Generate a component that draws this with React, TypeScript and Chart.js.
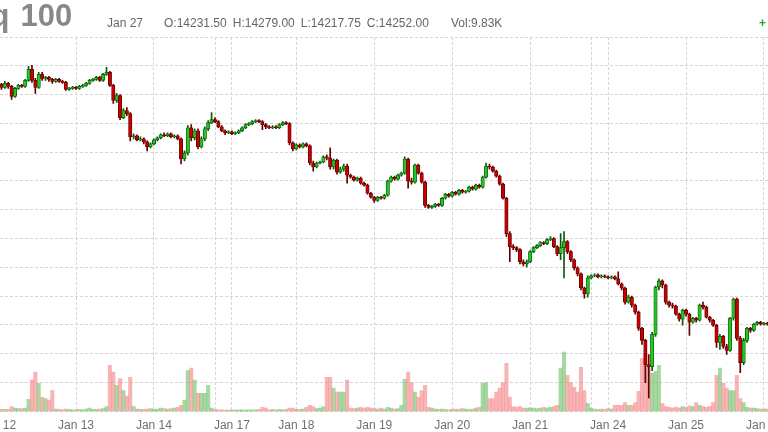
import React, { useEffect, useRef } from 'react';
import { Chart, registerables } from 'chart.js';

Chart.register(...registerables);

const TITLE_LEFT = 'Nasdaq';
const TITLE_RIGHT = '100';
const HEADER_DATE = 'Jan 27';
const HEADER_OHLC = ['O:14231.50', 'H:14279.00', 'L:14217.75', 'C:14252.00'];
const HEADER_VOL = 'Vol:9.83K';

// x positions (hourly candle index) of the day separators and their labels
const tickPos = [0, 23, 46, 64.3, 69, 88, 111, 134, 157, 175, 180, 203, 226];
const tickText = ['Jan 12', 'Jan 13', 'Jan 14', '', 'Jan 17', 'Jan 18', 'Jan 19', 'Jan 20', 'Jan 21', '', 'Jan 24', 'Jan 25', 'Jan 26'];

const open = [
  15857, 15871, 15850, 15878, 15857, 15787, 15843, 15864, 15857, 15899,
  15976, 15899, 15850, 15941, 15913, 15920, 15906, 15892, 15906, 15892,
  15885, 15836, 15843, 15850, 15843, 15857, 15864, 15878, 15899, 15906,
  15920, 15899, 15941, 15955, 15864, 15759, 15794, 15640, 15689, 15668,
  15507, 15514, 15486, 15493, 15472, 15437, 15458, 15486, 15500, 15521,
  15514, 15528, 15507, 15514, 15493, 15353, 15395, 15570, 15500, 15549,
  15437, 15493, 15563, 15605, 15626, 15612, 15577, 15549, 15535, 15542,
  15528, 15535, 15549, 15570, 15591, 15598, 15612, 15619, 15612, 15591,
  15577, 15570, 15577, 15570, 15591, 15605, 15598, 15465, 15423, 15451,
  15437, 15458, 15444, 15325, 15297, 15325, 15332, 15367, 15360, 15297,
  15346, 15262, 15283, 15304, 15241, 15227, 15206, 15220, 15185, 15171,
  15115, 15087, 15066, 15087, 15080, 15101, 15199, 15227, 15213, 15241,
  15255, 15353, 15199, 15192, 15311, 15255, 15192, 15031, 15017, 15024,
  15038, 15031, 15080, 15108, 15094, 15122, 15108, 15136, 15122, 15129,
  15157, 15143, 15171, 15157, 15227, 15304, 15297, 15269, 15234, 15178,
  15080, 14835, 14744, 14737, 14723, 14639, 14625, 14639, 14709, 14737,
  14751, 14772, 14765, 14793, 14800, 14744, 14695, 14737, 14779, 14709,
  14653, 14597, 14555, 14457, 14415, 14527, 14541, 14548, 14534, 14541,
  14534, 14527, 14534, 14520, 14485, 14457, 14359, 14394, 14338, 14289,
  14177, 14093, 13925, 13911, 14135, 14464, 14506, 14478, 14359, 14338,
  14331, 14275, 14240, 14303, 14275, 14219, 14247, 14233, 14338, 14324,
  14254, 14233, 14198, 14079, 14121, 14051, 14023, 14247, 14380, 14107,
  13939, 14093, 14177, 14163, 14205, 14219, 14205, 14212,
];

const high = [
  15885, 15878, 15892, 15885, 15864, 15850, 15871, 15871, 15906, 15997,
  16004, 15913, 15955, 15955, 15927, 15927, 15913, 15913, 15913, 15899,
  15892, 15850, 15857, 15857, 15864, 15871, 15885, 15906, 15913, 15927,
  15927, 15948, 15990, 15962, 15871, 15808, 15801, 15703, 15710, 15675,
  15528, 15521, 15507, 15500, 15479, 15465, 15493, 15507, 15528, 15535,
  15535, 15535, 15521, 15521, 15500, 15409, 15584, 15591, 15563, 15563,
  15507, 15577, 15619, 15675, 15640, 15619, 15584, 15556, 15549, 15549,
  15542, 15556, 15577, 15598, 15605, 15619, 15626, 15626, 15619, 15598,
  15584, 15584, 15584, 15598, 15612, 15612, 15605, 15472, 15458, 15458,
  15465, 15465, 15451, 15339, 15332, 15339, 15374, 15381, 15430, 15353,
  15353, 15297, 15318, 15318, 15248, 15234, 15227, 15227, 15192, 15178,
  15122, 15094, 15094, 15094, 15108, 15206, 15234, 15234, 15248, 15262,
  15367, 15360, 15220, 15318, 15318, 15262, 15199, 15038, 15031, 15045,
  15045, 15087, 15115, 15115, 15129, 15129, 15143, 15143, 15136, 15164,
  15164, 15178, 15178, 15234, 15325, 15318, 15304, 15276, 15241, 15185,
  15087, 14849, 14758, 14744, 14730, 14653, 14653, 14716, 14744, 14758,
  14779, 14779, 14800, 14814, 14807, 14751, 14835, 14849, 14786, 14716,
  14660, 14604, 14562, 14464, 14541, 14548, 14555, 14555, 14548, 14548,
  14541, 14541, 14541, 14569, 14492, 14464, 14408, 14401, 14345, 14296,
  14184, 14100, 13995, 14149, 14471, 14520, 14513, 14485, 14366, 14352,
  14338, 14282, 14310, 14310, 14282, 14254, 14254, 14345, 14359, 14331,
  14261, 14240, 14205, 14135, 14128, 14065, 14254, 14387, 14387, 14121,
  14107, 14184, 14184, 14212, 14226, 14226, 14219, 14219,
];

const low = [
  15843, 15836, 15843, 15843, 15766, 15780, 15836, 15850, 15850, 15892,
  15885, 15808, 15843, 15899, 15899, 15892, 15878, 15885, 15885, 15878,
  15829, 15829, 15836, 15836, 15836, 15850, 15857, 15871, 15892, 15899,
  15892, 15892, 15934, 15857, 15738, 15745, 15626, 15633, 15654, 15479,
  15493, 15479, 15479, 15458, 15409, 15430, 15451, 15479, 15493, 15507,
  15507, 15500, 15500, 15486, 15318, 15339, 15381, 15479, 15486, 15423,
  15430, 15479, 15549, 15598, 15605, 15570, 15542, 15521, 15528, 15521,
  15521, 15528, 15542, 15563, 15584, 15591, 15605, 15605, 15556, 15563,
  15563, 15563, 15563, 15563, 15584, 15591, 15451, 15409, 15416, 15430,
  15430, 15437, 15311, 15269, 15290, 15318, 15325, 15346, 15283, 15283,
  15248, 15255, 15269, 15185, 15220, 15199, 15199, 15178, 15164, 15108,
  15080, 15052, 15059, 15073, 15073, 15094, 15192, 15206, 15206, 15234,
  15248, 15150, 15178, 15185, 15248, 15185, 15017, 15010, 15010, 15017,
  15024, 15024, 15073, 15087, 15087, 15101, 15101, 15115, 15115, 15122,
  15136, 15136, 15150, 15150, 15220, 15283, 15262, 15227, 15171, 15073,
  14814, 14639, 14723, 14709, 14625, 14611, 14604, 14632, 14702, 14730,
  14744, 14758, 14758, 14786, 14737, 14681, 14653, 14527, 14695, 14639,
  14583, 14541, 14443, 14387, 14394, 14520, 14534, 14527, 14527, 14527,
  14520, 14520, 14513, 14478, 14443, 14345, 14352, 14324, 14275, 14163,
  14065, 13799, 13694, 13883, 14121, 14443, 14457, 14345, 14324, 14317,
  14268, 14226, 14198, 14261, 14128, 14212, 14219, 14226, 14310, 14247,
  14219, 14191, 14044, 14030, 14037, 13995, 14016, 14233, 14093, 13869,
  13925, 14079, 14149, 14156, 14198, 14198, 14198, 14198,
];

const close = [
  15871, 15850, 15878, 15857, 15787, 15843, 15864, 15857, 15899, 15976,
  15899, 15850, 15941, 15913, 15920, 15906, 15892, 15906, 15892, 15885,
  15836, 15843, 15850, 15843, 15857, 15864, 15878, 15899, 15906, 15920,
  15899, 15941, 15955, 15864, 15759, 15794, 15640, 15689, 15668, 15507,
  15514, 15486, 15493, 15472, 15437, 15458, 15486, 15500, 15521, 15514,
  15528, 15507, 15514, 15493, 15353, 15395, 15570, 15500, 15549, 15437,
  15493, 15563, 15605, 15626, 15612, 15577, 15549, 15535, 15542, 15528,
  15535, 15549, 15570, 15591, 15598, 15612, 15619, 15612, 15591, 15577,
  15570, 15577, 15570, 15591, 15605, 15598, 15465, 15423, 15451, 15437,
  15458, 15444, 15325, 15297, 15325, 15332, 15367, 15360, 15297, 15346,
  15262, 15283, 15304, 15241, 15227, 15206, 15220, 15185, 15171, 15115,
  15087, 15066, 15087, 15080, 15101, 15199, 15227, 15213, 15241, 15255,
  15353, 15199, 15192, 15311, 15255, 15192, 15031, 15017, 15024, 15038,
  15031, 15080, 15108, 15094, 15122, 15108, 15136, 15122, 15129, 15157,
  15143, 15171, 15157, 15227, 15304, 15297, 15269, 15234, 15178, 15080,
  14835, 14744, 14737, 14723, 14639, 14625, 14639, 14709, 14737, 14751,
  14772, 14765, 14793, 14800, 14744, 14695, 14737, 14779, 14709, 14653,
  14597, 14555, 14457, 14415, 14527, 14541, 14548, 14534, 14541, 14534,
  14527, 14534, 14520, 14485, 14457, 14359, 14394, 14338, 14289, 14177,
  14093, 13925, 13911, 14135, 14464, 14506, 14478, 14359, 14338, 14331,
  14275, 14240, 14303, 14275, 14219, 14247, 14233, 14338, 14324, 14254,
  14233, 14198, 14079, 14121, 14051, 14023, 14247, 14380, 14107, 13939,
  14093, 14177, 14163, 14205, 14219, 14205, 14212, 14205,
];

// volume in thousands of contracts
const volume = [
  5, 5, 5, 5, 12, 8, 7, 7, 8, 30,
  78, 98, 70, 35, 32, 28, 52, 6, 5, 4,
  6, 5, 4, 4, 5, 4, 6, 8, 5, 5,
  6, 7, 12, 115, 98, 65, 82, 52, 38, 85,
  12, 6, 5, 5, 6, 7, 5, 6, 8, 7,
  6, 7, 8, 10, 15, 28, 102, 108, 78, 45,
  45, 45, 65, 8, 5, 4, 4, 3, 3, 4,
  3, 4, 4, 3, 4, 4, 4, 5, 10, 8,
  4, 5, 4, 5, 4, 5, 8, 8, 5, 5,
  6, 10, 15, 12, 7, 8, 12, 85, 85, 58,
  48, 48, 48, 78, 8, 7, 8, 10, 8, 10,
  8, 7, 6, 8, 6, 10, 8, 6, 7, 15,
  80, 98, 72, 48, 35, 52, 65, 10, 8, 6,
  5, 6, 5, 4, 5, 6, 5, 7, 6, 5,
  6, 8, 10, 70, 72, 32, 32, 48, 58, 72,
  120, 35, 12, 10, 12, 8, 8, 9, 8, 7,
  8, 10, 8, 10, 12, 15, 108, 148, 90, 72,
  60, 48, 110, 52, 20, 8, 6, 5, 6, 5,
  7, 6, 15, 15, 15, 22, 15, 15, 22, 50,
  132, 145, 112, 95, 100, 115, 20, 12, 10, 8,
  10, 9, 12, 10, 14, 12, 22, 15, 12, 10,
  12, 22, 90, 108, 70, 58, 52, 52, 90, 32,
  22, 10, 8, 8, 7, 6, 6, 6,
];

const FONT = "'Liberation Sans', Arial, Helvetica, sans-serif";

export default function App() {
  const ref = useRef<HTMLCanvasElement>(null);

  useEffect(() => {
    if (!ref.current) return;
    const isUp = (i: number) => close[i] >= open[i];
    const gridDash = [3, 2];
    const chart = new Chart(ref.current, {
      type: 'bar',
      data: {
        datasets: [
          {
            label: 'body',
            data: open.map((o, i) => ({ x: i, y: [o, close[i]] })) as any,
            backgroundColor: (c: any) => (isUp(c.dataIndex) ? '#22c822' : '#c40000'),
            borderColor: (c: any) => (isUp(c.dataIndex) ? '#0a5a0a' : '#640000'),
            borderWidth: 0.8,
            borderSkipped: false,
            barThickness: 3.4,
            minBarLength: 1,
            grouped: false,
            order: 0,
            yAxisID: 'y',
          } as any,
          {
            label: 'wick',
            data: low.map((l, i) => ({ x: i, y: [l, high[i]] })) as any,
            backgroundColor: (c: any) => (isUp(c.dataIndex) ? '#0a5a0a' : '#640000'),
            borderWidth: 0,
            barThickness: 1,
            grouped: false,
            order: 1,
            yAxisID: 'y',
          } as any,
          {
            label: 'volume',
            data: volume.map((v, i) => ({ x: i, y: v })) as any,
            backgroundColor: (c: any) =>
              isUp(c.dataIndex) ? 'rgba(110,190,100,0.6)' : 'rgba(245,140,140,0.65)',
            borderWidth: 0,
            barPercentage: 1,
            categoryPercentage: 1,
            grouped: false,
            order: 2,
            yAxisID: 'yv',
          } as any,
        ],
      },
      options: {
        responsive: false,
        animation: false,
        devicePixelRatio: 1,
        events: [],
        layout: { padding: { top: 37, left: 0, right: 0, bottom: 0 }, autoPadding: false } as any,
        plugins: { legend: { display: false }, tooltip: { enabled: false }, title: { display: false } },
        scales: {
          x: {
            type: 'linear',
            min: -17.13,
            max: 244.89,
            offset: false,
            grid: { offset: false, color: '#d6d6d6', lineWidth: 1, drawTicks: false, borderDash: gridDash } as any,
            border: { display: false, dash: gridDash },
            afterBuildTicks: (scale: any) => {
              scale.ticks = tickPos.map((v) => ({ value: v }));
            },
            afterFit: (scale: any) => {
              scale.paddingLeft = 0;
              scale.paddingRight = 0;
            },
            ticks: {
              autoSkip: false,
              maxRotation: 0,
              padding: 6.6,
              color: '#707070',
              font: { family: FONT, size: 12 },
              callback: (_v: any, idx: number) => tickText[idx],
            },
          } as any,
          y: {
            type: 'linear',
            position: 'right',
            min: 13600,
            max: 16200,
            grid: { color: '#d6d6d6', lineWidth: 1, drawTicks: false, borderDash: gridDash } as any,
            border: { display: false, dash: gridDash },
            ticks: { display: false, stepSize: 200 },
            afterFit: (scale: any) => {
              scale.width = 0;
            },
          } as any,
          yv: {
            type: 'linear',
            display: false,
            min: 0,
            max: 935,
            grid: { display: false },
          } as any,
        },
      },
    });
    return () => chart.destroy();
  }, []);

  const small: React.CSSProperties = {
    position: 'absolute',
    top: 17,
    fontSize: 12,
    lineHeight: '12px',
    color: '#666',
    whiteSpace: 'nowrap',
    fontFamily: FONT,
  };
  const title: React.CSSProperties = {
    position: 'absolute',
    top: 0,
    fontSize: 31,
    lineHeight: '31px',
    fontWeight: 'bold',
    color: '#888',
    whiteSpace: 'nowrap',
    fontFamily: FONT,
  };

  return (
    <div
      style={{
        position: 'fixed',
        left: 0,
        top: 0,
        width: 768,
        height: 432,
        overflow: 'hidden',
        background: '#ffffff',
        fontFamily: FONT,
      }}
    >
      <canvas
        ref={ref}
        width={888}
        height={439}
        style={{ position: 'absolute', left: -60, top: 0, width: 888, height: 439 }}
      />
      <span style={{ ...title, right: 768 - 9.5 }}>{TITLE_LEFT}</span>
      <span style={{ ...title, left: 20.5 }}>{TITLE_RIGHT}</span>
      <span style={{ ...small, left: 107 }}>{HEADER_DATE}</span>
      <div style={{ ...small, left: 164, display: 'flex', gap: 6 }}>
        {HEADER_OHLC.map((t) => (
          <span key={t}>{t}</span>
        ))}
      </div>
      <span style={{ ...small, left: 451 }}>{HEADER_VOL}</span>
      <span style={{ ...small, left: 759, top: 16.5, color: '#2a2', fontWeight: 'bold' }}>+</span>
    </div>
  );
}
